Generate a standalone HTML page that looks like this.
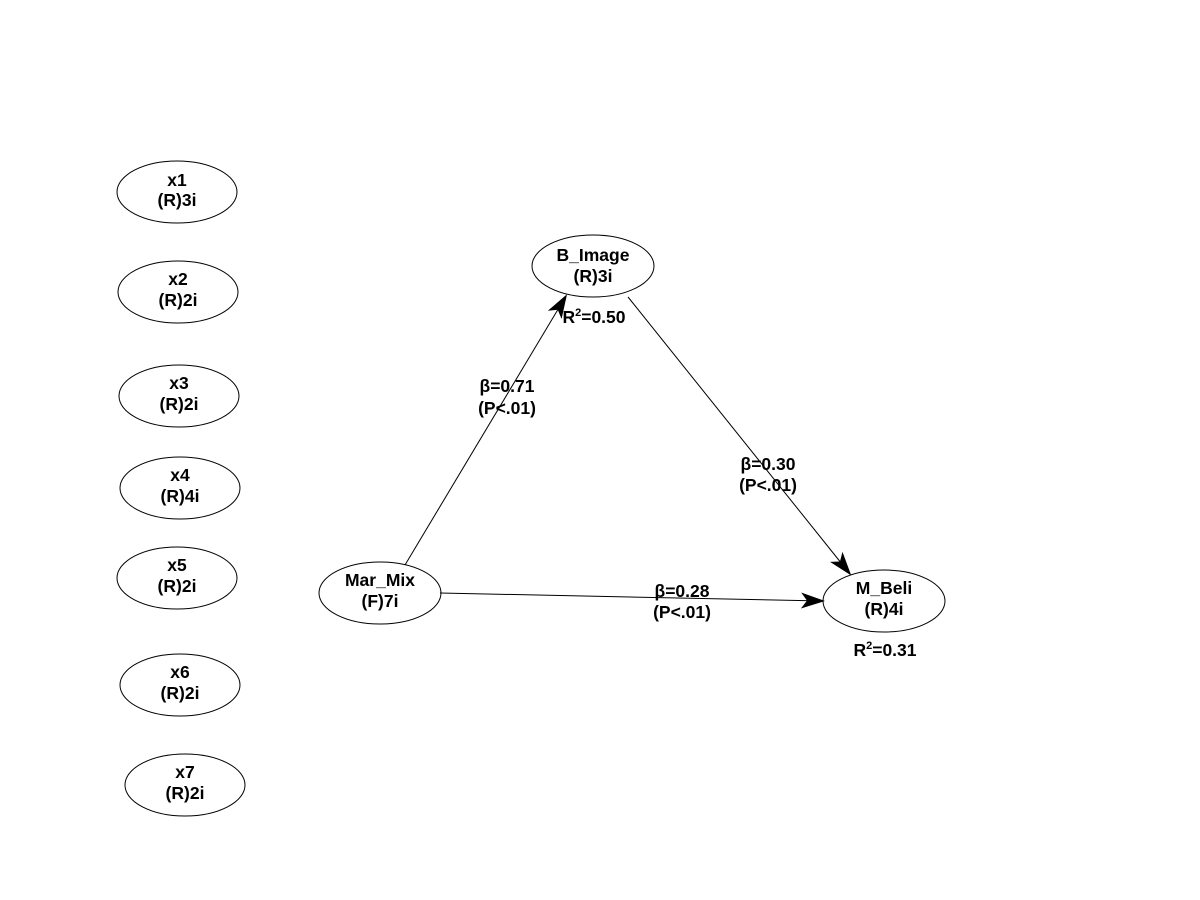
<!DOCTYPE html>
<html><head><meta charset="utf-8"><style>
html,body{margin:0;padding:0;background:#fff;}
svg{display:block;}
text{font-family:"Liberation Sans",Arial,sans-serif;font-weight:bold;font-size:17.5px;fill:#000;text-anchor:middle;}
</style></head><body>
<svg width="1200" height="900" viewBox="0 0 1200 900" xmlns="http://www.w3.org/2000/svg">
<defs>
<marker id="a" markerWidth="24" markerHeight="16" refX="22" refY="8" orient="auto" markerUnits="userSpaceOnUse">
<path d="M0,0 L24,8 L0,16 L6,8 Z" fill="#000"/>
</marker>
</defs>
<g fill="none" stroke="#000" stroke-width="1">
<ellipse cx="177" cy="192" rx="60" ry="31"/>
<ellipse cx="178" cy="292" rx="60" ry="31"/>
<ellipse cx="179" cy="396" rx="60" ry="31"/>
<ellipse cx="180" cy="488" rx="60" ry="31"/>
<ellipse cx="177" cy="578" rx="60" ry="31"/>
<ellipse cx="180" cy="685" rx="60" ry="31"/>
<ellipse cx="185" cy="785" rx="60" ry="31"/>
<ellipse cx="593" cy="266" rx="61" ry="31"/>
<ellipse cx="380" cy="593" rx="61" ry="31"/>
<ellipse cx="884" cy="601" rx="61" ry="31"/>
<line x1="405" y1="565" x2="566" y2="296" marker-end="url(#a)"/>
<line x1="628" y1="297" x2="850" y2="574" marker-end="url(#a)"/>
<line x1="440" y1="593" x2="823" y2="601" marker-end="url(#a)"/>
</g>
<text x="177" y="186">x1</text><text x="177" y="206">(R)3i</text>
<text x="178" y="285">x2</text><text x="178" y="306">(R)2i</text>
<text x="179" y="389">x3</text><text x="179" y="410">(R)2i</text>
<text x="180" y="481">x4</text><text x="180" y="502">(R)4i</text>
<text x="177" y="571">x5</text><text x="177" y="592">(R)2i</text>
<text x="180" y="678">x6</text><text x="180" y="699">(R)2i</text>
<text x="185" y="778">x7</text><text x="185" y="799">(R)2i</text>
<text x="593" y="261">B_Image</text><text x="593" y="282">(R)3i</text>
<text x="380" y="586">Mar_Mix</text><text x="380" y="607">(F)7i</text>
<text x="884" y="594">M_Beli</text><text x="884" y="615">(R)4i</text>
<text x="594" y="323">R<tspan dy="-7" font-size="11">2</tspan><tspan dy="7">=0.50</tspan></text>
<text x="885" y="656">R<tspan dy="-7" font-size="11">2</tspan><tspan dy="7">=0.31</tspan></text>
<text x="507" y="392">β=0.71</text><text x="507" y="414">(P&lt;.01)</text>
<text x="768" y="470">β=0.30</text><text x="768" y="491">(P&lt;.01)</text>
<text x="682" y="597">β=0.28</text><text x="682" y="618">(P&lt;.01)</text>
</svg>
</body></html>
